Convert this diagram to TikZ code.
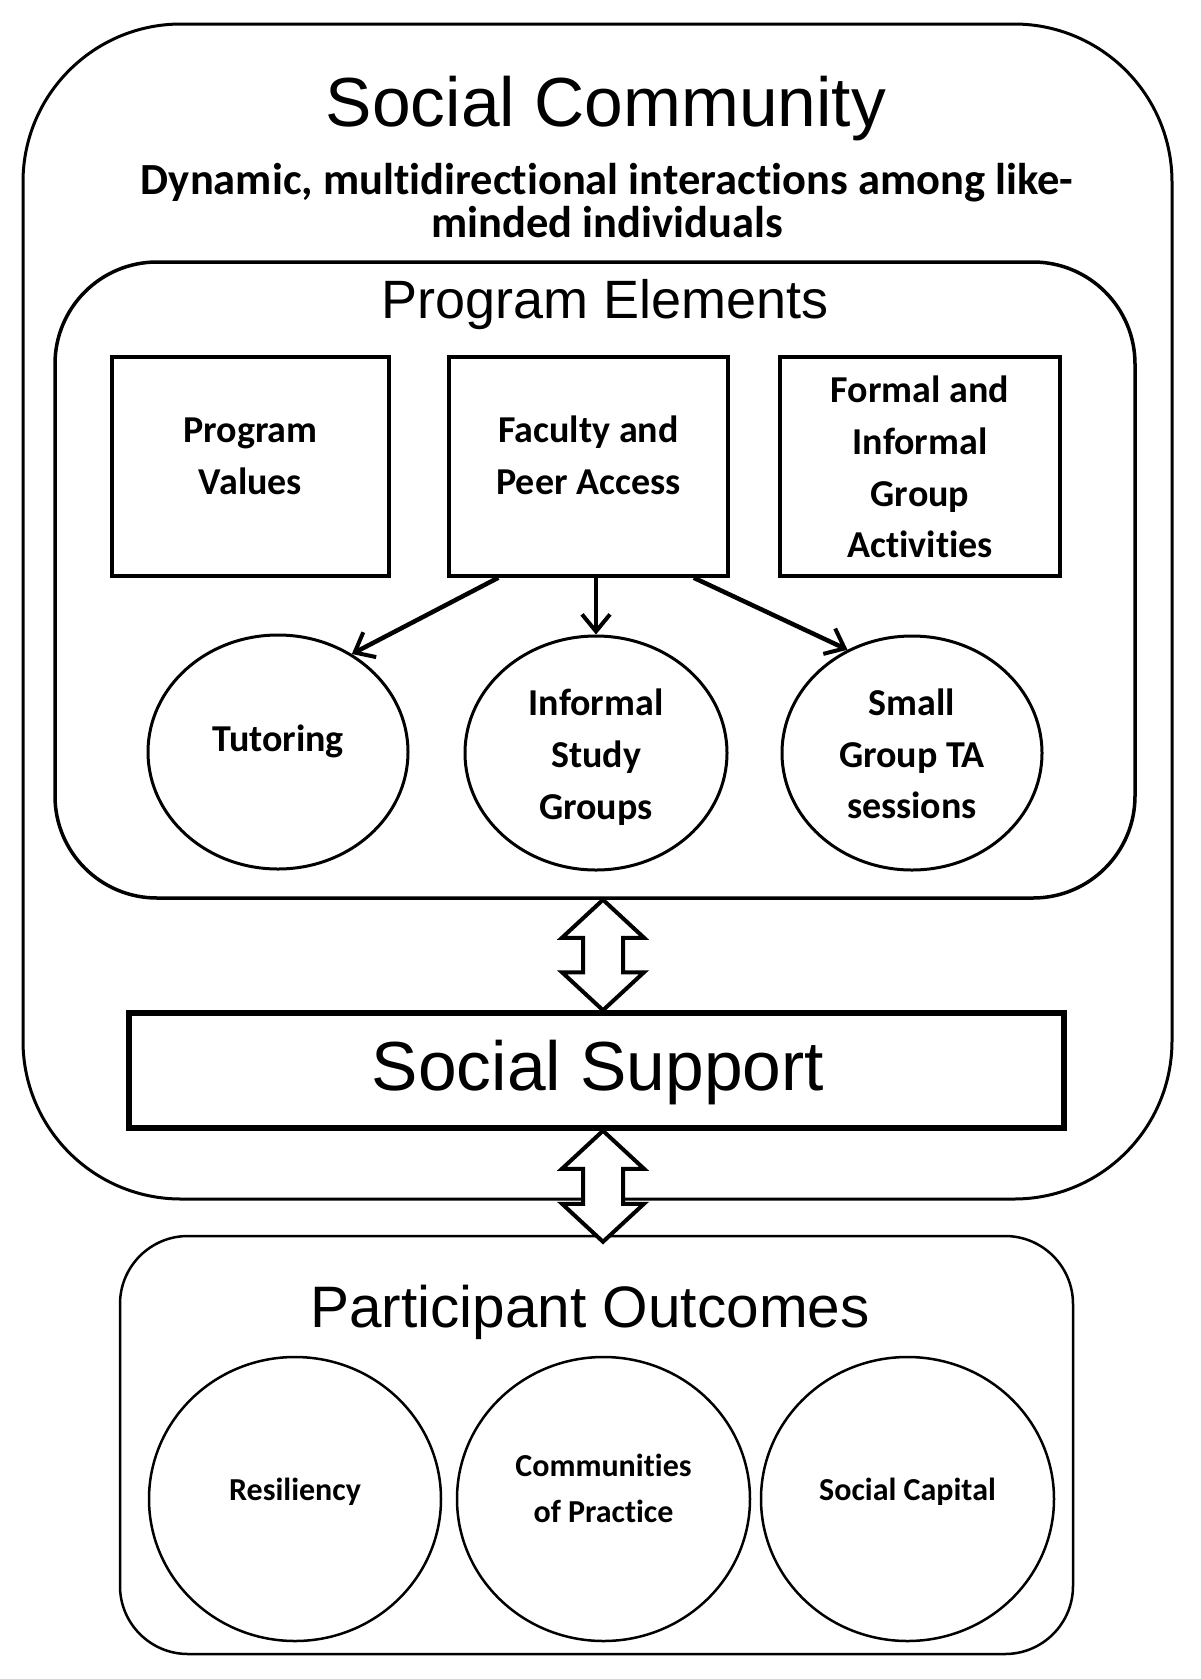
\documentclass[tikz,border=0pt]{standalone}
\usepackage{fontspec}
\setmainfont{Liberation Sans}
\newfontfamily\calfont[Ligatures=NoCommon]{Carlito}
\usetikzlibrary{arrows.meta,calc,shapes.geometric}
\newcommand\hollowdbl[2]{%
  \draw[hollow] let \p1=(#1), \p2=(#2) in
    (\x1,\y1) -- (\x1+41pt,\y1-38pt) -- (\x1+20pt,\y1-38pt) -- (\x1+20pt,\y2+38pt)
    -- (\x1+41pt,\y2+38pt) -- (\x1,\y2) -- (\x1-41pt,\y2+38pt) -- (\x1-20pt,\y2+38pt)
    -- (\x1-20pt,\y1-38pt) -- (\x1-41pt,\y1-38pt) -- cycle;}
\begin{document}
\begin{tikzpicture}[x=1pt,y=-1pt,
  frame/.style={draw, rectangle, inner sep=0pt, line width=3pt},
  sqbox/.style={draw, rectangle, inner sep=0pt, line width=3.5pt, minimum height=219pt},
  oval/.style={draw, ellipse, inner sep=0pt, line width=3pt, minimum width=260pt, minimum height=234pt},
  poval/.style={draw, ellipse, inner sep=0pt, line width=2.5pt, minimum width=293pt, minimum height=284pt},
  bigtitle/.style={inner sep=0pt, anchor=base, font=\fontsize{69.5}{80}\selectfont},
  lbl/.style={inner sep=0pt, align=center, font=\calfont\bfseries\fontsize{38}{51.7}\selectfont},
  slbl/.style={inner sep=0pt, align=center, font=\calfont\bfseries\fontsize{32}{46}\selectfont},
  link/.style={line width=4.5pt, -{Straight Barb[length=17pt,width=28pt,line width=4pt]}},
  hollow/.style={draw, fill=white, line width=4pt, line join=miter}]
\useasboundingbox (0,0) rectangle (1200,1679);

% containers
\node[frame, rounded corners=158pt, minimum width=1149pt, minimum height=1175pt] (sc) at (597.5,611.5) {};
\node[frame, line width=3.5pt, rounded corners=102pt, minimum width=1080pt, minimum height=636pt] (pe) at (595,580) {};
\node[frame, line width=5.5pt, minimum width=935pt, minimum height=115pt] (ss) at (596.5,1070.5) {};
\node[frame, line width=2.5pt, rounded corners=68pt, minimum width=953pt, minimum height=418pt] (po) at (596.5,1445) {};

% titles
\node[bigtitle] (sctitle) at (606,126) {Social Community};
\node[inner sep=0pt, align=center, font=\calfont\bfseries\fontsize{44.5}{43}\selectfont] (scsub) at (607,201)
  {Dynamic, multidirectional interactions among like-\\minded individuals};
\node[bigtitle, font=\fontsize{54}{60}\selectfont] (petitle) at (605,318) {Program Elements};
\node[bigtitle] (sstitle) at (598,1090) {Social Support};
\node[bigtitle, font=\fontsize{58.5}{66}\selectfont] (potitle) at (590,1327) {Participant Outcomes};

% program element boxes
\node[sqbox, minimum width=277pt] (pv) at (250.5,466.5) {};
\node[sqbox, minimum width=279pt] (fa) at (588.5,466.5) {};
\node[sqbox, minimum width=280pt] (fg) at (920,466.5) {};
\node[lbl] (pvt) at (250.5,456) {Program\\Values};
\node[lbl] (fat) at (588.5,455) {Faculty and\\Peer Access};
\node[lbl] (fgt) at (920,467) {Formal and\\Informal\\Group\\Activities};

% program element ovals
\node[oval] (tut) at (278,752) {};
\node[oval, minimum width=262pt] (isg) at (596,753) {};
\node[oval] (sgta) at (912,753) {};
\node[lbl, anchor=base] (tutt) at (278,751) {Tutoring};
\node[lbl] (isgt) at (596,757) {Informal\\Study\\Groups};
\node[lbl] (sgtat) at (912,754) {Small\\Group TA\\sessions};

% arrows from faculty box
\draw[link] ([xshift=51pt]fa.south west) -- (tut.53);
\draw[link] (fa.south -| isg.north) -- (isg.north);
\draw[link] ([xshift=-36pt]fa.south east) -- (sgta.122);

% participant outcome ovals
\node[poval, minimum width=292pt] (res) at (295,1499) {};
\node[poval] (cop) at (603.5,1499) {};
\node[poval] (scap) at (907.5,1499) {};
\node[slbl, anchor=base] (rest) at (295,1500) {Resiliency};
\node[slbl] (copt) at (603.5,1488) {Communities\\of Practice};
\node[slbl, anchor=base] (scapt) at (907.5,1500) {Social Capital};

% hollow double arrows
\coordinate (ax) at (603,0);
\coordinate (poin) at ([yshift=-7pt]po.north);
\hollowdbl{pe.south -| ax}{ss.north -| ax}
\hollowdbl{ss.south -| ax}{poin -| ax}
\end{tikzpicture}
\end{document}
